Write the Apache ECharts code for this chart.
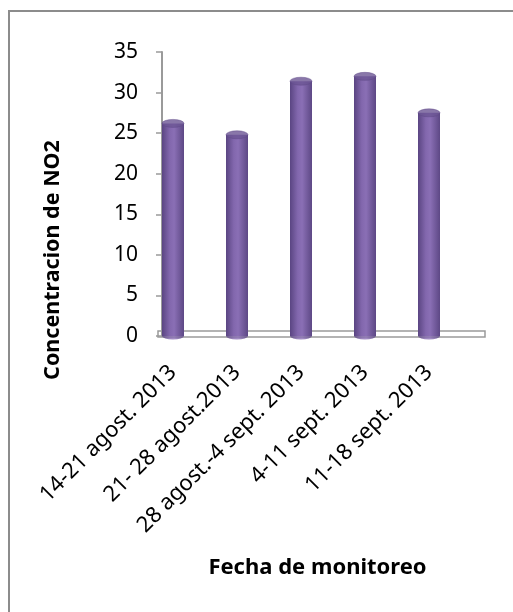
<!DOCTYPE html>
<html>
<head>
<meta charset="utf-8">
<script src="https://cdn.jsdelivr.net/npm/echarts@6/dist/echarts.min.js"></script>
<style>
  html, body { margin: 0; padding: 0; background: #fff; }
  #chart { width: 513px; height: 612px; }
</style>
</head>
<body>
<div id="chart"></div>
<script>
// datos de monitoreo
const categories = ['14-21 agost. 2013', '21- 28 agost.2013', '28 agost.-4 sept. 2013', '4-11 sept. 2013', '11-18 sept. 2013']
const no2Values = [26.2, 24.8, 31.4, 32.0, 27.5]
const yTicks = { min: 0, max: 35, interval: 5 }
const yName = 'Concentracion de NO2'
const xName = 'Fecha de monitoreo'

const font = '"Noto Sans", "Liberation Sans", sans-serif'

// cilindro: sombra en los bordes
const cylinder = new echarts.graphic.LinearGradient(0, 0, 1, 0, [
  { offset: 0, color: '#5a4582' },
  { offset: 0.35, color: '#8267ad' },
  { offset: 0.55, color: '#8a6fb5' },
  { offset: 1, color: '#5d4885' }
])

const chart = echarts.init(document.getElementById('chart'))

const option = {
  animation: false,
  backgroundColor: '#fff',
  grid: [
    // datos
    { left: 141, width: 320, top: 52, bottom: 276 },
    // piso
    { left: 158, right: 28, top: 331, bottom: 275, show: true, borderColor: '#9a9a9a', borderWidth: 1.5, backgroundColor: '#fff' }
  ],
  xAxis: [
    {
      type: 'category',
      gridIndex: 0,
      data: categories,
      axisLine: { show: false },
      axisTick: { show: false },
      axisLabel: {
        rotate: 45,
        margin: 33,
        interval: 0,
        fontFamily: font,
        fontSize: 22,
        color: '#000'
      }
    },
    {
      type: 'category',
      gridIndex: 1,
      data: categories,
      axisLine: { show: false },
      axisTick: { show: false },
      axisLabel: { show: false },
      name: xName,
      nameLocation: 'middle',
      nameGap: 220,
      nameTextStyle: { fontFamily: font, fontSize: 22, fontWeight: 'bold', color: '#000', padding: [0, 8, 0, 0] }
    }
  ],
  yAxis: [
    {
      type: 'value',
      gridIndex: 0,
      min: yTicks.min,
      max: yTicks.max,
      interval: yTicks.interval,
      offset: -21,
      splitLine: { show: false },
      axisLine: { show: true, lineStyle: { color: '#9a9a9a', width: 2 } },
      axisTick: { show: true, length: 6, lineStyle: { color: '#9a9a9a', width: 1.5 } },
      axisLabel: { margin: 24, fontFamily: font, fontSize: 21, color: '#000' }
    },
    {
      type: 'value',
      gridIndex: 1,
      show: false
    }
  ],
  graphic: [
    {
      type: 'rect',
      shape: { x: 9, y: 11, width: 600, height: 700 },
      style: { fill: 'none', stroke: '#8c8c8c', lineWidth: 2 },
      silent: true
    },
    {
      type: 'text',
      x: 53,
      y: 260,
      rotation: Math.PI / 2,
      style: {
        text: yName,
        fontFamily: font,
        fontSize: 21.5,
        fontWeight: 'bold',
        fill: '#000',
        align: 'center',
        verticalAlign: 'middle'
      }
    }
  ],
  series: [
    {
      type: 'scatter',
      xAxisIndex: 0,
      yAxisIndex: 0,
      z: 1,
      symbol: 'circle',
      symbolSize: [22, 7],
      itemStyle: { color: cylinder },
      data: no2Values.map(() => 0)
    },
    {
      type: 'bar',
      xAxisIndex: 0,
      yAxisIndex: 0,
      z: 2,
      barWidth: 22,
      itemStyle: { color: cylinder },
      data: no2Values
    },
    {
      type: 'scatter',
      xAxisIndex: 0,
      yAxisIndex: 0,
      z: 3,
      symbol: 'circle',
      symbolSize: [22, 8],
      itemStyle: { color: '#6c5594', borderColor: '#5e4886', borderWidth: 0.5 },
      data: no2Values
    }
  ]
}

chart.setOption(option)
</script>
</body>
</html>
